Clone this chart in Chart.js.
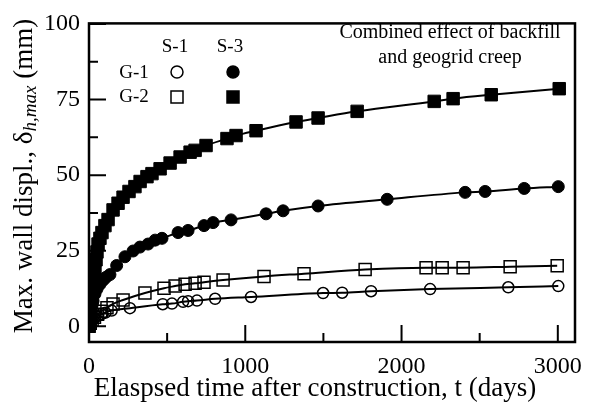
<!DOCTYPE html>
<html>
<head>
<meta charset="utf-8">
<script src="https://cdn.jsdelivr.net/npm/chart.js@4.4.0/dist/chart.umd.min.js"></script>
<style>
  html, body { margin: 0; padding: 0; background: #fff; }
</style>
</head>
<body>
<canvas id="chart" width="595" height="408"></canvas>
<script>
// wall displacement vs elapsed time (days)
const timeG1S1 = [0, 8, 20, 35, 55, 80, 105, 145, 262, 472, 531, 602, 634, 691, 807, 1037, 1498, 1620, 1805, 2183, 2683, 3003];
const dispG1S1 = [0, 0.8, 1.8, 2.7, 3.4, 4.0, 4.5, 5.2, 6.0, 7.3, 7.5, 8.1, 8.3, 8.5, 9.1, 9.7, 11.0, 11.1, 11.6, 12.3, 12.9, 13.3];

const timeG2S1 = [0, 8, 20, 35, 55, 80, 115, 154, 218, 358, 480, 551, 615, 679, 736, 858, 1120, 1376, 1767, 2157, 2260, 2394, 2695, 2996];
const dispG2S1 = [0, 1.0, 2.0, 3.0, 4.0, 5.0, 6.1, 7.4, 8.7, 11.0, 12.6, 13.3, 13.9, 14.2, 14.6, 15.3, 16.5, 17.4, 18.8, 19.4, 19.4, 19.4, 19.7, 20.0];

const timeG1S3 = [0, 6, 13, 19, 26, 38, 51, 70, 90, 109, 134, 177, 230, 282, 326, 378, 423, 467, 570, 634, 736, 794, 909, 1133, 1242, 1466, 1908, 2407, 2535, 2785, 3003];
const dispG1S3 = [0, 2.6, 4.9, 6.8, 8.4, 10.7, 12.3, 13.9, 15.2, 16.2, 17.1, 20.1, 23.0, 24.9, 26.2, 27.2, 28.5, 29.1, 31.0, 31.7, 33.3, 34.3, 35.2, 37.2, 38.2, 39.8, 42.0, 44.3, 44.6, 45.6, 46.2];

const timeG2S3 = [0, 6, 13, 19, 26, 32, 38, 45, 51, 58, 70, 83, 102, 122, 154, 186, 218, 256, 294, 327, 371, 403, 455, 519, 583, 647, 679, 749, 883, 941, 1069, 1325, 1466, 1716, 2209, 2330, 2574, 3009];
const dispG2S3 = [0, 2.6, 5.8, 9.1, 12.3, 15.5, 18.8, 22.0, 24.6, 27.2, 29.1, 31.0, 33.3, 35.3, 38.5, 40.7, 42.7, 44.6, 46.2, 47.9, 49.5, 50.5, 52.1, 54.0, 56.0, 57.6, 58.2, 59.8, 62.1, 63.1, 64.7, 67.6, 68.9, 71.1, 74.4, 75.3, 76.6, 78.6];

const xTicks = [0, 1000, 2000, 3000];
const xMinor = [500, 1500, 2500];
const yTicks = [0, 25, 50, 75, 100];
const yMinor = [12.5, 37.5, 62.5, 87.5];

const serif = '"Liberation Serif", "Times New Roman", serif';

function pairs(t, d) {
  return t.map((v, i) => ({ x: v, y: d[i] }));
}

function series(t, d, style, filled, radius) {
  return {
    data: pairs(t, d),
    borderColor: '#000',
    borderWidth: 2,
    cubicInterpolationMode: 'monotone',
    pointStyle: style,
    pointRadius: radius,
    pointBorderWidth: filled ? 1 : 1.5,
    pointBorderColor: '#000',
    pointBackgroundColor: filled ? '#000' : 'rgba(0,0,0,0)',
    fill: false
  };
}

// draws one marker like the ones on the curves
function marker(ctx, style, filled, cx, cy, r) {
  ctx.beginPath();
  if (style === 'circle') {
    ctx.arc(cx, cy, r, 0, Math.PI * 2);
  } else {
    ctx.rect(cx - r, cy - r, 2 * r, 2 * r);
  }
  if (filled) { ctx.fillStyle = '#000'; ctx.fill(); }
  ctx.lineWidth = 1.5;
  ctx.strokeStyle = '#000';
  ctx.stroke();
}

const overlay = {
  id: 'overlay',
  afterDraw(chart) {
    const { ctx, chartArea: a, scales: { x, y } } = chart;
    ctx.save();

    // inward tick marks
    ctx.strokeStyle = '#000';
    ctx.lineWidth = 2;
    ctx.beginPath();
    xTicks.forEach(v => { const p = x.getPixelForValue(v); ctx.moveTo(p, a.bottom); ctx.lineTo(p, a.bottom - 17); });
    xMinor.forEach(v => { const p = x.getPixelForValue(v); ctx.moveTo(p, a.bottom); ctx.lineTo(p, a.bottom - 9); });
    yTicks.forEach(v => { const p = y.getPixelForValue(v); ctx.moveTo(a.left, p); ctx.lineTo(a.left + 17, p); });
    yMinor.forEach(v => { const p = y.getPixelForValue(v); ctx.moveTo(a.left, p); ctx.lineTo(a.left + 9, p); });
    ctx.stroke();

    // frame
    ctx.lineWidth = 2.5;
    ctx.strokeRect(a.left, a.top, a.right - a.left, a.bottom - a.top);

    // legend grid
    ctx.fillStyle = '#000';
    ctx.font = '19px ' + serif;
    ctx.textAlign = 'center';
    ctx.textBaseline = 'middle';
    ctx.fillText('S-1', 175, 47);
    ctx.fillText('S-3', 230, 47);
    ctx.fillText('G-1', 134, 73);
    ctx.fillText('G-2', 134, 97);
    marker(ctx, 'circle', false, 177, 72, 6);
    marker(ctx, 'circle', true, 233, 72, 6);
    marker(ctx, 'rect', false, 177, 97, 6);
    marker(ctx, 'rect', true, 233, 97, 6);

    // note
    ctx.fillStyle = '#000';
    ctx.font = '20px ' + serif;
    ctx.fillText('Combined effect of backfill', 450, 33);
    ctx.fillText('and geogrid creep', 450, 58);

    // x title
    ctx.font = '27px ' + serif;
    ctx.fillText('Elaspsed time after construction, t (days)', 315, 389);

    // y title with subscript
    const main = 'Max. wall displ., \u03b4';
    const sub = 'h,max';
    const tail = ' (mm)';
    const fMain = '27px ' + serif;
    const fSub = 'italic 19px ' + serif;
    ctx.font = fMain;
    const w1 = ctx.measureText(main).width;
    const w3 = ctx.measureText(tail).width;
    ctx.font = fSub;
    const w2 = ctx.measureText(sub).width;
    const total = w1 + w2 + w3;
    ctx.translate(25, 176);
    ctx.rotate(-Math.PI / 2);
    ctx.textAlign = 'left';
    let cx = -total / 2;
    ctx.font = fMain;
    ctx.fillText(main, cx, 0);
    cx += w1;
    ctx.font = fSub;
    ctx.fillText(sub, cx, 6);
    cx += w2;
    ctx.font = fMain;
    ctx.fillText(tail, cx, 0);

    ctx.restore();
  }
};

new Chart(document.getElementById('chart'), {
  type: 'line',
  data: {
    datasets: [
      series(timeG1S1, dispG1S1, 'circle', false, 5.5),
      series(timeG2S1, dispG2S1, 'rect', false, 8.5),
      series(timeG1S3, dispG1S3, 'circle', true, 6),
      series(timeG2S3, dispG2S3, 'rect', true, 8.8)
    ]
  },
  options: {
    responsive: false,
    animation: false,
    layout: { padding: { left: 0, top: 16, right: 20, bottom: 0 } },
    plugins: { legend: { display: false }, tooltip: { enabled: false } },
    scales: {
      x: {
        type: 'linear',
        min: 0,
        max: 3110,
        grid: { display: false, drawTicks: false },
        border: { display: false },
        afterBuildTicks: s => { s.ticks = xTicks.map(v => ({ value: v })); },
        afterFit: s => { s.height = 66; },
        ticks: { color: '#000', padding: 10, maxRotation: 0, callback: v => String(v), font: { family: serif, size: 24 } }
      },
      y: {
        type: 'linear',
        min: -5.2,
        max: 100.2,
        grid: { display: false, drawTicks: false },
        border: { display: false },
        afterBuildTicks: s => { s.ticks = yTicks.map(v => ({ value: v })); },
        afterFit: s => { s.width = 89; },
        ticks: { color: '#000', padding: 9, callback: v => String(v), font: { family: serif, size: 24 } }
      }
    }
  },
  plugins: [overlay]
});
</script>
</body>
</html>
